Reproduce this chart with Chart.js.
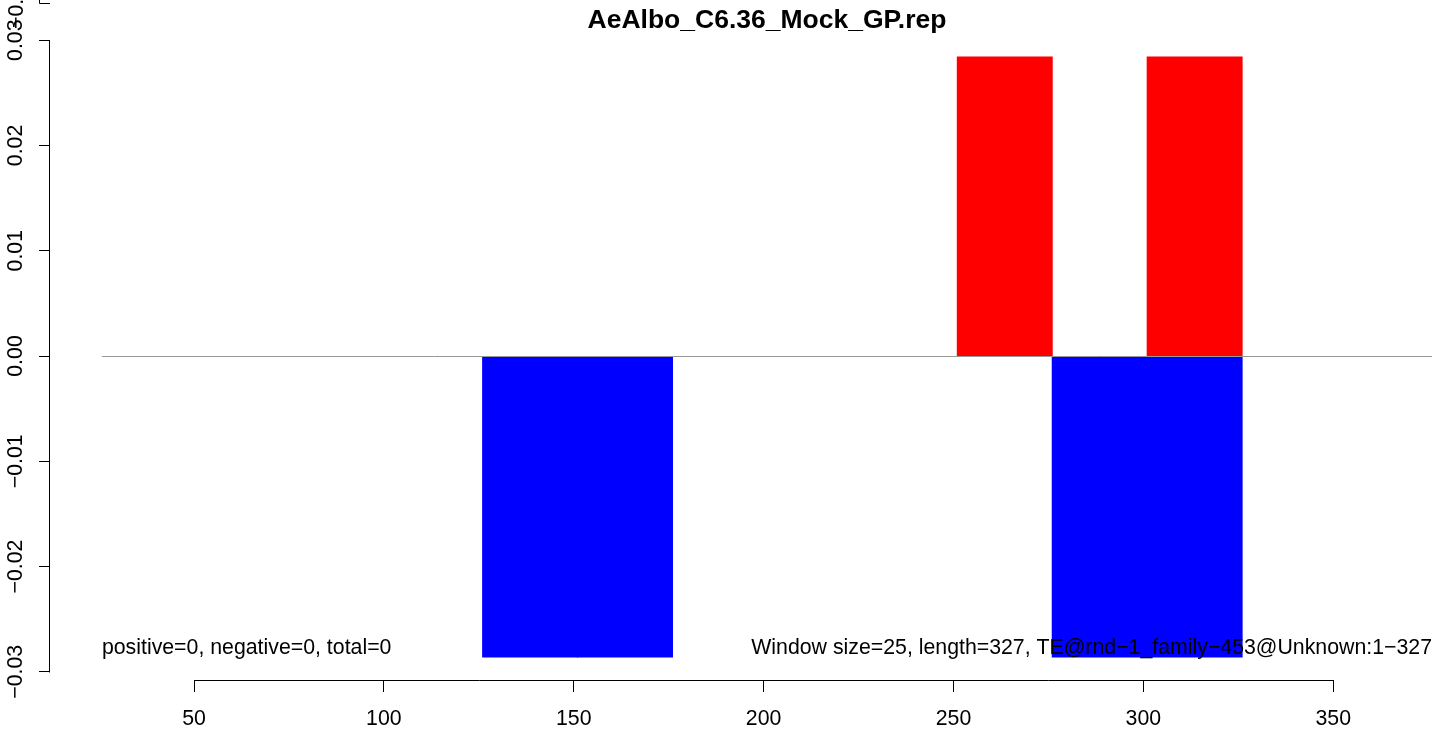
<!DOCTYPE html>
<html>
<head>
<meta charset="utf-8">
<script src="https://cdn.jsdelivr.net/npm/chart.js@4"></script>
<style>
  html, body { margin: 0; padding: 0; background: #ffffff; }
  canvas { display: block; }
</style>
</head>
<body>
<canvas id="c" width="1441" height="730"></canvas>
<script>
// ---- data ----
const chartTitle = 'AeAlbo_C6.36_Mock_GP.rep';
const windowSize = 25;
const windowStarts   = [1, 26, 51, 76, 101, 126, 151, 176, 201, 226, 251, 276, 301];
const positiveValues = [0, 0, 0, 0, 0, 0, 0, 0, 0, 0, 0.0284, 0, 0.0284];
const negativeValues = [0, 0, 0, 0, 0, -0.0286, -0.0286, 0, 0, 0, 0, -0.0286, -0.0286];
const xTicks = [50, 100, 150, 200, 250, 300, 350];
const yTicks = [-0.03, -0.02, -0.01, 0, 0.01, 0.02, 0.03];
const xRange = [12.08, 376.0];
const yRange = [-0.03078, 0.03078];
const zeroLineStart = 25.75;
const noteY = -0.02775;
const leftNote = 'positive=0, negative=0, total=0';
const rightNote = 'Window size=25, length=327, TE@rnd\u22121_family\u2212453@Unknown:1\u2212327';
const strayLabel = '\u22120.03';

const FONT = '"Liberation Sans", Arial, Helvetica, sans-serif';
const fmtY = v => (Math.abs(v) < 1e-12 ? '0.00' : v.toFixed(2).replace('-', '\u2212'));

const decorations = {
  id: 'decorations',
  afterDatasetsDraw(chart) {
    const { ctx, chartArea } = chart;
    const x = chart.scales.x, y = chart.scales.y;
    ctx.save();
    // zero reference line
    const y0 = Math.round(y.getPixelForValue(0)) + 0.5;
    ctx.strokeStyle = '#999999';
    ctx.lineWidth = 1;
    ctx.beginPath();
    ctx.moveTo(x.getPixelForValue(zeroLineStart), y0);
    ctx.lineTo(chartArea.right, y0);
    ctx.stroke();
    // notes
    ctx.fillStyle = '#000000';
    ctx.font = '21.3px ' + FONT;
    ctx.textBaseline = 'middle';
    const ny = y.getPixelForValue(noteY);
    ctx.textAlign = 'left';
    ctx.fillText(leftNote, x.getPixelForValue(zeroLineStart), ny);
    ctx.textAlign = 'right';
    ctx.fillText(rightNote, chartArea.right, ny);
    ctx.restore();
  },
  afterDraw(chart) {
    const { ctx, chartArea } = chart;
    const x = chart.scales.x, y = chart.scales.y;
    ctx.save();
    ctx.strokeStyle = '#000000';
    ctx.lineWidth = 1;
    // y axis line between first and last tick
    const ax = chartArea.left - 0.5;
    ctx.beginPath();
    ctx.moveTo(ax, Math.round(y.getPixelForValue(yTicks[yTicks.length - 1])) + 0.5);
    ctx.lineTo(ax, Math.round(y.getPixelForValue(yTicks[0])) + 0.5);
    ctx.stroke();
    // x axis line between first and last tick
    const ay = chartArea.bottom + 0.5;
    ctx.beginPath();
    ctx.moveTo(Math.round(x.getPixelForValue(xTicks[0])) + 0.5, ay);
    ctx.lineTo(Math.round(x.getPixelForValue(xTicks[xTicks.length - 1])) + 0.5, ay);
    ctx.stroke();
    // title
    ctx.fillStyle = '#000000';
    ctx.font = 'bold 26.5px ' + FONT;
    ctx.textAlign = 'center';
    ctx.textBaseline = 'middle';
    ctx.fillText(chartTitle, (x.getPixelForValue(zeroLineStart) + chartArea.right) / 2, 20.5);
    // stray fragment of a neighbouring panel at the very top-left
    ctx.save();
    ctx.font = '21.3px ' + FONT;
    ctx.translate(17, 2);
    ctx.rotate(-Math.PI / 2);
    ctx.fillText(strayLabel, 0, 0);
    ctx.restore();
    ctx.beginPath();
    ctx.moveTo(39.5, 0);
    ctx.lineTo(39.5, 3.5);
    ctx.lineTo(50, 3.5);
    ctx.stroke();
    ctx.restore();
  }
};

new Chart(document.getElementById('c'), {
  type: 'bar',
  data: {
    datasets: [
      {
        label: 'positive',
        data: windowStarts.map((s, i) => ({ x: s + windowSize / 2, y: positiveValues[i] })),
        backgroundColor: '#ff0000',
        borderWidth: 0
      },
      {
        label: 'negative',
        data: windowStarts.map((s, i) => ({ x: s + windowSize / 2, y: negativeValues[i] })),
        backgroundColor: '#0000ff',
        borderWidth: 0
      }
    ]
  },
  options: {
    responsive: false,
    animation: false,
    devicePixelRatio: 1,
    categoryPercentage: 1,
    barPercentage: 1,
    elements: {
      bar: {
        inflateAmount: c => (c.raw && c.raw.y !== 0 ? 0.5 : 0)
      }
    },
    layout: { padding: { top: 32, right: 9, left: 0, bottom: 0 } },
    plugins: { legend: { display: false }, tooltip: { enabled: false }, title: { display: false } },
    scales: {
      x: {
        type: 'linear',
        stacked: true,
        offset: false,
        min: xRange[0],
        max: xRange[1],
        afterBuildTicks: s => { s.ticks = xTicks.map(v => ({ value: v })); },
        afterFit: s => { s.height = 50; },
        border: { display: false },
        grid: { display: true, offset: false, drawOnChartArea: false, drawTicks: true, tickLength: 12, color: '#000000', lineWidth: 1 },
        ticks: {
          autoSkip: false,
          maxRotation: 0,
          color: '#000000',
          padding: 14,
          font: { family: FONT, size: 21.3 },
          callback: v => String(v)
        }
      },
      y: {
        type: 'linear',
        stacked: true,
        min: yRange[0],
        max: yRange[1],
        afterBuildTicks: s => { s.ticks = yTicks.map(v => ({ value: v })); },
        afterFit: s => { s.width = 50; },
        border: { display: false },
        grid: { display: true, offset: false, drawOnChartArea: false, drawTicks: true, tickLength: 11, color: '#000000', lineWidth: 1 },
        ticks: {
          autoSkip: false,
          minRotation: 90,
          maxRotation: 90,
          crossAlign: 'center',
          color: '#000000',
          padding: -4.5,
          font: { family: FONT, size: 21.3 },
          callback: v => fmtY(v)
        }
      }
    }
  },
  plugins: [decorations]
});
</script>
</body>
</html>
